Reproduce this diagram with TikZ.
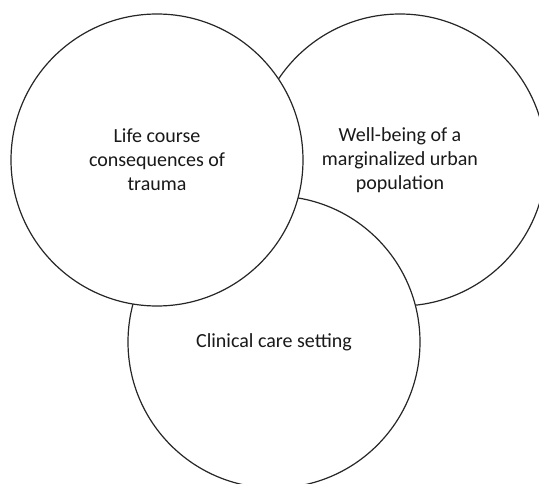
\documentclass[tikz,border=0pt]{standalone}
\usepackage{fontspec}
\setmainfont{Carlito}
\usepackage{tikz}
\tikzset{
	ring/.style={draw=black!85, line width=1.2pt, fill=white, circle,
		inner sep=0pt, minimum size=292pt, align=center,
		font=\fontsize{20}{24}\selectfont, text=black!90},
}

\begin{document}
\begin{tikzpicture}[x=1pt, y=1pt]
	\useasboundingbox (0,0) rectangle (539,483);
	\clip (0,0) rectangle (539,483);
	% back to front: right, bottom, left
	\node[ring] at (400,323) (wellbeing) {Well-being of a\\marginalized urban\\population};
	\node[ring] at (274,141) (clinic) {Clinical care setting};
	\node[ring] at (157,323) (trauma) {Life course\\consequences of\\trauma};
\end{tikzpicture}
\end{document}
